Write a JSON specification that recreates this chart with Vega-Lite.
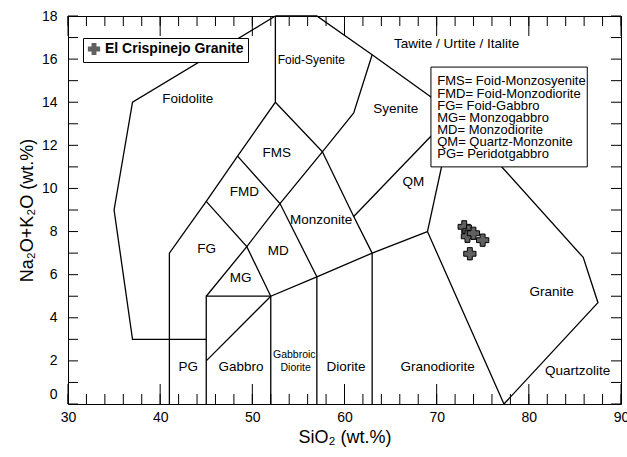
{
  "$schema": "https://vega.github.io/schema/vega-lite/v6.json",
  "width": 553,
  "height": 388,
  "autosize": {"type": "none"},
  "padding": {"left": 68, "top": 16, "right": 6, "bottom": 53},
  "background": "white",
  "config": {
    "view": {"stroke": "black", "strokeWidth": 1},
    "font": "Liberation Sans",
    "axis": {
      "domain": false, "ticks": false, "labelColor": "black", "titleColor": "black",
      "grid": false, "labelFont": "Liberation Sans", "titleFont": "Liberation Sans",
      "titleFontWeight": "normal", "labelFontSize": 14, "titleFontSize": 18,
      "labelFlush": false, "labelOverlap": false
    },
    "text": {"font": "Liberation Sans", "color": "black"}
  },
  "datasets": {
    "xminor": [{"v": 30}, {"v": 32}, {"v": 34}, {"v": 36}, {"v": 38}, {"v": 40}, {"v": 42}, {"v": 44}, {"v": 46}, {"v": 48}, {"v": 50}, {"v": 52}, {"v": 54}, {"v": 56}, {"v": 58}, {"v": 60}, {"v": 62}, {"v": 64}, {"v": 66}, {"v": 68}, {"v": 70}, {"v": 72}, {"v": 74}, {"v": 76}, {"v": 78}, {"v": 80}, {"v": 82}, {"v": 84}, {"v": 86}, {"v": 88}, {"v": 90}],
    "xmajor": [{"v": 30}, {"v": 40}, {"v": 50}, {"v": 60}, {"v": 70}, {"v": 80}, {"v": 90}],
    "yticks": [{"v": 0}, {"v": 1}, {"v": 2}, {"v": 3}, {"v": 4}, {"v": 5}, {"v": 6}, {"v": 7}, {"v": 8}, {"v": 9}, {"v": 10}, {"v": 11}, {"v": 12}, {"v": 13}, {"v": 14}, {"v": 15}, {"v": 16}, {"v": 17}, {"v": 18}]
  },
  "layer": [
    {
      "data": {"values": [
        {"s": 1, "o": 1, "x": 52.5, "y": 18}, {"s": 1, "o": 2, "x": 37, "y": 14}, {"s": 1, "o": 3, "x": 35, "y": 9}, {"s": 1, "o": 4, "x": 37, "y": 3}, {"s": 1, "o": 5, "x": 45, "y": 3},
        {"s": 2, "o": 1, "x": 41, "y": 0}, {"s": 2, "o": 2, "x": 41, "y": 7}, {"s": 2, "o": 3, "x": 45, "y": 9.4}, {"s": 2, "o": 4, "x": 48.4, "y": 11.5}, {"s": 2, "o": 5, "x": 52.5, "y": 14}, {"s": 2, "o": 6, "x": 52.5, "y": 18},
        {"s": 3, "o": 1, "x": 52.5, "y": 18}, {"s": 3, "o": 2, "x": 57, "y": 18}, {"s": 3, "o": 3, "x": 63, "y": 16.2}, {"s": 3, "o": 4, "x": 71.8, "y": 13.5}, {"s": 3, "o": 5, "x": 85.9, "y": 6.8}, {"s": 3, "o": 6, "x": 87.5, "y": 4.7}, {"s": 3, "o": 7, "x": 77.3, "y": 0},
        {"s": 4, "o": 1, "x": 52.5, "y": 14}, {"s": 4, "o": 2, "x": 57.6, "y": 11.7}, {"s": 4, "o": 3, "x": 61, "y": 13.5}, {"s": 4, "o": 4, "x": 63, "y": 16.2},
        {"s": 5, "o": 1, "x": 45, "y": 9.4}, {"s": 5, "o": 2, "x": 49.4, "y": 7.3}, {"s": 5, "o": 3, "x": 52, "y": 5},
        {"s": 6, "o": 1, "x": 45, "y": 5}, {"s": 6, "o": 2, "x": 49.4, "y": 7.3}, {"s": 6, "o": 3, "x": 53, "y": 9.3}, {"s": 6, "o": 4, "x": 57.6, "y": 11.7},
        {"s": 7, "o": 1, "x": 48.4, "y": 11.5}, {"s": 7, "o": 2, "x": 53, "y": 9.3}, {"s": 7, "o": 3, "x": 57, "y": 5.9},
        {"s": 8, "o": 1, "x": 57.6, "y": 11.7}, {"s": 8, "o": 2, "x": 61, "y": 8.7}, {"s": 8, "o": 3, "x": 63, "y": 7},
        {"s": 9, "o": 1, "x": 61, "y": 8.7}, {"s": 9, "o": 2, "x": 71.8, "y": 13.5},
        {"s": 10, "o": 1, "x": 45, "y": 0}, {"s": 10, "o": 2, "x": 45, "y": 5}, {"s": 10, "o": 3, "x": 52, "y": 5}, {"s": 10, "o": 4, "x": 52, "y": 0},
        {"s": 11, "o": 1, "x": 45, "y": 2}, {"s": 11, "o": 2, "x": 52, "y": 5}, {"s": 11, "o": 3, "x": 57, "y": 5.9}, {"s": 11, "o": 4, "x": 63, "y": 7}, {"s": 11, "o": 5, "x": 69, "y": 8}, {"s": 11, "o": 6, "x": 77.3, "y": 0},
        {"s": 12, "o": 1, "x": 57, "y": 0}, {"s": 12, "o": 2, "x": 57, "y": 5.9},
        {"s": 13, "o": 1, "x": 63, "y": 0}, {"s": 13, "o": 2, "x": 63, "y": 7},
        {"s": 14, "o": 1, "x": 69, "y": 8}, {"s": 14, "o": 2, "x": 71.8, "y": 13.5}
      ]},
      "mark": {"type": "line", "color": "black", "strokeWidth": 1.3},
      "encoding": {
        "x": {"field": "x", "type": "quantitative",
          "scale": {"domain": [30, 90], "nice": false, "zero": false},
          "axis": {"orient": "bottom", "values": [30, 40, 50, 60, 70, 80, 90],
            "ticks": false, "labelPadding": 6,
            "title": "SiO₂ (wt.%)", "titlePadding": 4}},
        "y": {"field": "y", "type": "quantitative",
          "scale": {"domain": [0, 18], "nice": false, "zero": false},
          "axis": {"orient": "left", "ticks": false,
            "values": [0, 2, 4, 6, 8, 10, 12, 14, 16, 18],
            "labelOffset": {"condition": {"test": "datum.value === 0", "value": -10}, "value": 0},
            "labelPadding": 11,
            "title": "Na₂O+K₂O (wt.%)", "titlePadding": 5}},
        "detail": {"field": "s", "type": "nominal"},
        "order": {"field": "o", "type": "quantitative"}
      }
    },
    {
      "data": {"name": "xminor"},
      "mark": {"type": "rule", "color": "black", "strokeWidth": 1},
      "encoding": {
        "x": {"field": "v", "type": "quantitative", "scale": {"domain": [30, 90], "nice": false, "zero": false}, "axis": null},
        "y": {"datum": 0, "type": "quantitative", "scale": {"domain": [0, 18], "nice": false, "zero": false}, "axis": null},
        "y2": {"datum": 0.464}
      }
    },
    {
      "data": {"name": "xmajor"},
      "mark": {"type": "rule", "color": "black", "strokeWidth": 1},
      "encoding": {
        "x": {"field": "v", "type": "quantitative", "scale": {"domain": [30, 90], "nice": false, "zero": false}, "axis": null},
        "y": {"datum": 0, "type": "quantitative", "scale": {"domain": [0, 18], "nice": false, "zero": false}, "axis": null},
        "y2": {"datum": 0.928}
      }
    },
    {
      "data": {"name": "xminor"},
      "mark": {"type": "rule", "color": "black", "strokeWidth": 1},
      "encoding": {
        "x": {"field": "v", "type": "quantitative", "scale": {"domain": [30, 90], "nice": false, "zero": false}, "axis": null},
        "y": {"datum": 18, "type": "quantitative", "scale": {"domain": [0, 18], "nice": false, "zero": false}, "axis": null},
        "y2": {"datum": 17.536}
      }
    },
    {
      "data": {"name": "xmajor"},
      "mark": {"type": "rule", "color": "black", "strokeWidth": 1},
      "encoding": {
        "x": {"field": "v", "type": "quantitative", "scale": {"domain": [30, 90], "nice": false, "zero": false}, "axis": null},
        "y": {"datum": 18, "type": "quantitative", "scale": {"domain": [0, 18], "nice": false, "zero": false}, "axis": null},
        "y2": {"datum": 17.072}
      }
    },
    {
      "data": {"name": "yticks"},
      "mark": {"type": "rule", "color": "black", "strokeWidth": 1},
      "encoding": {
        "y": {"field": "v", "type": "quantitative", "scale": {"domain": [0, 18], "nice": false, "zero": false}, "axis": null},
        "x": {"datum": 30, "type": "quantitative", "scale": {"domain": [30, 90], "nice": false, "zero": false}, "axis": null},
        "x2": {"datum": 31.085}
      }
    },
    {
      "data": {"name": "yticks"},
      "mark": {"type": "rule", "color": "black", "strokeWidth": 1},
      "encoding": {
        "y": {"field": "v", "type": "quantitative", "scale": {"domain": [0, 18], "nice": false, "zero": false}, "axis": null},
        "x": {"datum": 90, "type": "quantitative", "scale": {"domain": [30, 90], "nice": false, "zero": false}, "axis": null},
        "x2": {"datum": 88.915}
      }
    },
    {
      "data": {"values": [{"x1": 69.38, "x2": 86.34, "y1": 15.63, "y2": 11.0}]},
      "mark": {"type": "rect", "fill": "white", "stroke": "black", "strokeWidth": 1},
      "encoding": {
        "x": {"field": "x1", "type": "quantitative", "scale": {"domain": [30, 90], "nice": false, "zero": false}, "axis": null},
        "x2": {"field": "x2"},
        "y": {"field": "y1", "type": "quantitative", "scale": {"domain": [0, 18], "nice": false, "zero": false}, "axis": null},
        "y2": {"field": "y2"}
      }
    },
    {
      "data": {"values": [
        {"t": "FMS= Foid-Monzosyenite", "x": 70.06, "y": 14.97},
        {"t": "FMD= Foid-Monzodiorite", "x": 70.06, "y": 14.40},
        {"t": "FG= Foid-Gabbro", "x": 70.06, "y": 13.84},
        {"t": "MG= Monzogabbro", "x": 70.06, "y": 13.28},
        {"t": "MD= Monzodiorite", "x": 70.06, "y": 12.71},
        {"t": "QM= Quartz-Monzonite", "x": 70.06, "y": 12.15},
        {"t": "PG= Peridotgabbro", "x": 70.06, "y": 11.59}
      ]},
      "mark": {"type": "text", "align": "left", "baseline": "middle", "fontSize": 13},
      "encoding": {
        "x": {"field": "x", "type": "quantitative", "scale": {"domain": [30, 90], "nice": false, "zero": false}, "axis": null},
        "y": {"field": "y", "type": "quantitative", "scale": {"domain": [0, 18], "nice": false, "zero": false}, "axis": null},
        "text": {"field": "t"}
      }
    },
    {
      "data": {"values": [
        {"t": "Foidolite", "x": 43.0, "y": 14.13},
        {"t": "Tawite / Urtite / Italite", "x": 72.17, "y": 16.71},
        {"t": "Syenite", "x": 65.55, "y": 13.7},
        {"t": "FMS", "x": 52.64, "y": 11.64},
        {"t": "FMD", "x": 49.13, "y": 9.84},
        {"t": "Monzonite", "x": 57.47, "y": 8.53},
        {"t": "QM", "x": 67.46, "y": 10.3},
        {"t": "FG", "x": 45.05, "y": 7.17},
        {"t": "MD", "x": 52.82, "y": 7.1},
        {"t": "MG", "x": 48.74, "y": 5.85},
        {"t": "PG", "x": 43.05, "y": 1.73},
        {"t": "Gabbro", "x": 48.77, "y": 1.73},
        {"t": "Diorite", "x": 60.16, "y": 1.7},
        {"t": "Granodiorite", "x": 70.11, "y": 1.7},
        {"t": "Granite", "x": 82.48, "y": 5.2},
        {"t": "Quartzolite", "x": 85.3, "y": 1.54}
      ]},
      "mark": {"type": "text", "align": "center", "baseline": "middle", "fontSize": 13.5},
      "encoding": {
        "x": {"field": "x", "type": "quantitative", "scale": {"domain": [30, 90], "nice": false, "zero": false}, "axis": null},
        "y": {"field": "y", "type": "quantitative", "scale": {"domain": [0, 18], "nice": false, "zero": false}, "axis": null},
        "text": {"field": "t"}
      }
    },
    {
      "data": {"values": [
        {"t": "Foid-Syenite", "x": 56.4, "y": 15.95}
      ]},
      "mark": {"type": "text", "align": "center", "baseline": "middle", "fontSize": 12},
      "encoding": {
        "x": {"field": "x", "type": "quantitative", "scale": {"domain": [30, 90], "nice": false, "zero": false}, "axis": null},
        "y": {"field": "y", "type": "quantitative", "scale": {"domain": [0, 18], "nice": false, "zero": false}, "axis": null},
        "text": {"field": "t"}
      }
    },
    {
      "data": {"values": [
        {"t": "Gabbroic", "x": 54.55, "y": 2.27},
        {"t": "Diorite", "x": 54.7, "y": 1.68}
      ]},
      "mark": {"type": "text", "align": "center", "baseline": "middle", "fontSize": 10.5},
      "encoding": {
        "x": {"field": "x", "type": "quantitative", "scale": {"domain": [30, 90], "nice": false, "zero": false}, "axis": null},
        "y": {"field": "y", "type": "quantitative", "scale": {"domain": [0, 18], "nice": false, "zero": false}, "axis": null},
        "text": {"field": "t"}
      }
    },
    {
      "data": {"values": [
        {"name": "El Crispinejo Granite", "sio2": 72.99, "alk": 8.22},
        {"name": "El Crispinejo Granite", "sio2": 73.5, "alk": 8.02},
        {"name": "El Crispinejo Granite", "sio2": 73.34, "alk": 7.78},
        {"name": "El Crispinejo Granite", "sio2": 73.99, "alk": 7.92},
        {"name": "El Crispinejo Granite", "sio2": 74.99, "alk": 7.6},
        {"name": "El Crispinejo Granite", "sio2": 73.6, "alk": 6.97}
      ]},
      "mark": {"type": "point", "filled": true, "fill": "#606060", "stroke": "black", "strokeWidth": 1, "size": 150, "opacity": 1},
      "encoding": {
        "x": {"field": "sio2", "type": "quantitative", "scale": {"domain": [30, 90], "nice": false, "zero": false}, "axis": null},
        "y": {"field": "alk", "type": "quantitative", "scale": {"domain": [0, 18], "nice": false, "zero": false}, "axis": null},
        "shape": {"field": "name", "type": "nominal", "scale": {"range": ["cross"]},
          "legend": {"orient": "none", "legendX": 15, "legendY": 22, "title": null,
            "labelFont": "Liberation Sans", "labelFontWeight": "bold", "labelFontSize": 14, "labelColor": "black",
            "strokeColor": "black", "fillColor": "white", "padding": 4,
            "symbolFillColor": "#606060", "symbolStrokeColor": "black", "symbolStrokeWidth": 1, "symbolSize": 150, "symbolOpacity": 1}}
      }
    }
  ],
  "resolve": {"axis": {"x": "independent", "y": "independent"}}
}
